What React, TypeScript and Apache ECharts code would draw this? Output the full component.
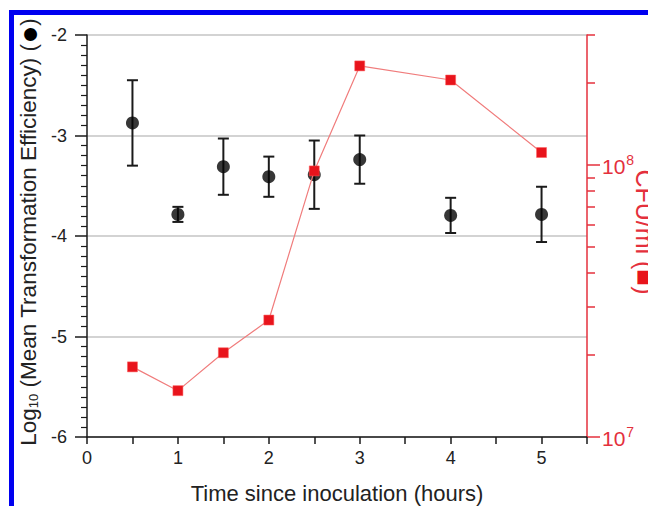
import React, { useEffect, useRef } from "react";
import * as echarts from "echarts";

const times = [0.5, 1, 1.5, 2, 2.5, 3, 4, 5];
const efficiency = [-2.875, -3.785, -3.31, -3.41, -3.39, -3.24, -3.795, -3.785];
const efficiencyErr = [0.425, 0.075, 0.28, 0.2, 0.34, 0.24, 0.175, 0.275];
const cfu = [1.81e7, 1.48e7, 2.04e7, 2.69e7, 9.5e7, 2.31e8, 2.05e8, 1.11e8];
const leftTicks = [-6, -5, -4, -3, -2];
const xTicks = [0, 1, 2, 3, 4, 5];
const cfuMajor = [1e7, 1e8];
const cfuMinor = [2e7, 3e7, 4e7, 5e7, 6e7, 7e7, 8e7, 9e7, 2e8, 3e8];
const cfuMin = 1e7;
const cfuMax = 3e8;

const FONT = "'Liberation Sans', Arial, sans-serif";
const RED = "#e4303c";
const DARK = "#1a1a1a";

export default function App() {
  const ref = useRef<HTMLDivElement>(null);
  useEffect(() => {
    if (!ref.current) return;
    const chart = echarts.init(ref.current, null, { renderer: "svg" });
    const lg = Math.log10;
    const option: any = {
      animation: false,
      backgroundColor: "#ffffff",
      textStyle: { fontFamily: FONT },
      grid: { left: 87, right: 61, top: 35, bottom: 69, containLabel: false },
      xAxis: {
        type: "value",
        min: 0,
        max: 5.5,
        interval: 0.5,
        axisLine: { onZero: false, lineStyle: { color: DARK, width: 1.5 } },
        axisTick: { length: 7, lineStyle: { color: DARK, width: 1.5 } },
        axisLabel: {
          color: "#222",
          fontSize: 18,
          fontFamily: FONT,
          margin: 12,
          formatter: (v: number) => (xTicks.includes(v) ? String(v) : ""),
        },
        splitLine: { show: false },
      },
      yAxis: [
        {
          type: "value",
          min: leftTicks[0],
          max: leftTicks[leftTicks.length - 1],
          interval: 1,
          position: "left",
          axisLine: { show: true, lineStyle: { color: DARK, width: 1.5 } },
          axisTick: { show: true, length: 12, lineStyle: { color: DARK, width: 1.5 } },
          minorTick: { show: true, splitNumber: 10, length: 6, lineStyle: { color: DARK, width: 1.2 } },
          axisLabel: { color: "#222", fontSize: 18, fontFamily: FONT, margin: 20 },
          splitLine: { show: true, lineStyle: { color: "#c4c4c4", width: 1.5 } },
        },
        {
          type: "value",
          min: lg(cfuMin),
          max: lg(cfuMax),
          interval: 1,
          position: "right",
          axisLine: { show: true, lineStyle: { color: RED, width: 1.5 } },
          axisTick: {
            show: true,
            length: 13,
            customValues: cfuMajor.map(lg),
            lineStyle: { color: RED, width: 1.5 },
          },
          axisLabel: {
            show: true,
            customValues: cfuMajor.map(lg),
            margin: 15,
            color: RED,
            fontFamily: FONT,
            fontSize: 21,
            formatter: (v: number) => "{b|10}{sup|" + Math.round(v) + "}",
            rich: {
              b: { fontSize: 21, color: RED, fontFamily: FONT, verticalAlign: "bottom", lineHeight: 24 },
              sup: { fontSize: 14, color: RED, fontFamily: FONT, verticalAlign: "top", lineHeight: 24, padding: [0, 0, 0, 1] },
            },
          },
          splitLine: { show: false },
        },
        {
          type: "value",
          min: lg(cfuMin),
          max: lg(cfuMax),
          interval: 1,
          position: "right",
          axisLine: { show: false },
          axisTick: {
            show: true,
            length: 8,
            customValues: cfuMinor.map(lg),
            lineStyle: { color: RED, width: 1.5 },
          },
          axisLabel: { show: false },
          splitLine: { show: false },
        },
      ],
      graphic: [
        { type: "rect", shape: { x: 9, y: 10, width: 650, height: 5 }, style: { fill: "#0000f0" }, z: 100 },
        { type: "rect", shape: { x: 9, y: 10, width: 5, height: 500 }, style: { fill: "#0000f0" }, z: 100 },
        {
          type: "text",
          x: 28,
          y: 232,
          rotation: Math.PI / 2,
          z: 100,
          style: {
            text: "Log{sub|10} (Mean Transformation Efficiency) ({dot|●})",
            fill: "#222",
            fontSize: 22.5,
            fontFamily: FONT,
            align: "center",
            verticalAlign: "middle",
            rich: {
              sub: { fontSize: 13, fill: "#222", fontFamily: FONT, verticalAlign: "bottom", lineHeight: 22 },
              dot: { fontSize: 30, fill: "#000", fontFamily: FONT, verticalAlign: "middle", lineHeight: 22 },
            },
          },
        },
        {
          type: "text",
          x: 645,
          y: 232,
          rotation: -Math.PI / 2,
          z: 100,
          style: {
            text: "CFU/ml ({sq|■})",
            fill: RED,
            fontSize: 25,
            fontFamily: FONT,
            align: "center",
            verticalAlign: "middle",
            rich: {
              sq: { fontSize: 28, fill: "#e8141c", fontFamily: FONT, verticalAlign: "middle", lineHeight: 25 },
            },
          },
        },
        {
          type: "text",
          x: 337,
          y: 493,
          z: 100,
          style: {
            text: "Time since inoculation (hours)",
            fill: "#222",
            fontSize: 22,
            fontFamily: FONT,
            align: "center",
            verticalAlign: "middle",
          },
        },
      ],
      series: [
        {
          type: "custom",
          name: "err",
          yAxisIndex: 0,
          data: times.map((t, i) => [t, efficiency[i] - efficiencyErr[i], efficiency[i] + efficiencyErr[i]]),
          encode: { x: 0, y: [1, 2] },
          renderItem: (params: any, api: any) => {
            const x = api.value(0);
            const pLo = api.coord([x, api.value(1)]);
            const pHi = api.coord([x, api.value(2)]);
            const hw = 5.5;
            const st = { stroke: DARK, lineWidth: 2 };
            return {
              type: "group",
              children: [
                { type: "line", shape: { x1: pLo[0], y1: pLo[1], x2: pHi[0], y2: pHi[1] }, style: st },
                { type: "line", shape: { x1: pLo[0] - hw, y1: pLo[1], x2: pLo[0] + hw, y2: pLo[1] }, style: st },
                { type: "line", shape: { x1: pHi[0] - hw, y1: pHi[1], x2: pHi[0] + hw, y2: pHi[1] }, style: st },
              ],
            };
          },
          z: 3,
        },
        {
          type: "scatter",
          name: "efficiency",
          yAxisIndex: 0,
          data: times.map((t, i) => [t, efficiency[i]]),
          symbol: "circle",
          symbolSize: 13,
          itemStyle: { color: "#050505" },
          z: 4,
        },
        {
          type: "line",
          name: "cfu",
          yAxisIndex: 1,
          data: times.map((t, i) => [t, lg(cfu[i])]),
          symbol: "rect",
          symbolSize: 10,
          lineStyle: { color: "#f07c7c", width: 1.2 },
          itemStyle: { color: "#e8141c", borderColor: "#ff5a5a", borderWidth: 0.5 },
          z: 5,
        },
      ],
    };
    chart.setOption(option);
    return () => chart.dispose();
  }, []);
  return (
    <div
      ref={ref}
      style={{ position: "absolute", left: 0, top: 0, width: 648, height: 506 }}
    />
  );
}
